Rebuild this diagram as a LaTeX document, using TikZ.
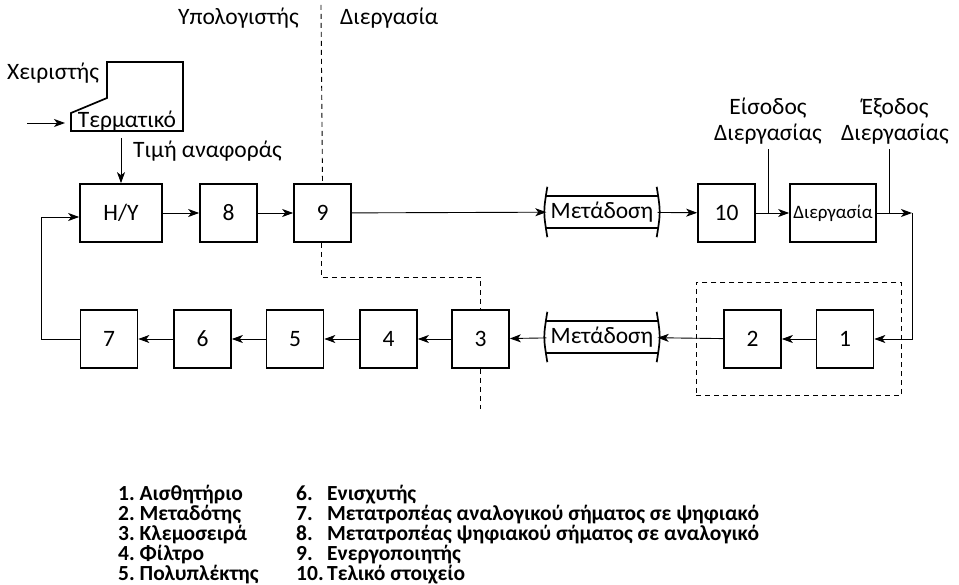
\documentclass[tikz,border=0pt]{standalone}
\usepackage{fontspec}
\setmainfont{Carlito}
\usetikzlibrary{arrows.meta,fit}

\begin{document}
\begin{tikzpicture}[
x=1pt, y=-1pt,
every node/.style={inner sep=0pt, font=\fontsize{23.5}{26}\selectfont},
box/.style={draw, line width=1.7pt, minimum width=57pt, minimum height=58pt},
trans/.style={minimum width=111pt, minimum height=32pt},
arrow/.style={-{Stealth[length=11pt, width=8pt, inset=3pt]}, line width=0.9pt},
link/.style={line width=0.9pt},
border/.style={line width=0.9pt, dash pattern=on 5pt off 4pt},
legend/.style={anchor=west, font=\fontsize{21.5}{22}\bfseries}
]
\useasboundingbox (0,0) rectangle (959,585);

% upper row
\node[box, minimum width=82pt] (hy) at (121,213) {H/Y};
\node[box] (b8) at (228.5,213) {8};
\node[box] (b9) at (322.5,213) {9};
\node[trans] (tx1) at (602,212) {Μετάδοση};
\node[box] (b10) at (726.5,213) {10};
\node[box, minimum width=86pt, font=\fontsize{19}{22}\selectfont] (proc) at (833,213) {Διεργασία};

% lower row
\node[box] (b1) at (845,339) {1};
\node[box] (b2) at (752.5,339) {2};
\node[trans] (tx2) at (602,337) {Μετάδοση};
\node[box] (b3) at (480.5,339) {3};
\node[box] (b4) at (388.5,339) {4};
\node[box] (b5) at (295,339) {5};
\node[box] (b6) at (202.5,339) {6};
\node[box] (b7) at (109,339) {7};

% transmission boxes
\foreach \t in {tx1,tx2}{
  \draw[line width=1.7pt] (\t.north west) -- (\t.north east) (\t.south west) -- (\t.south east);
  \draw[line width=1.7pt] ([shift={(1,-9)}]\t.north west) .. controls ([shift={(-3,0)}]\t.west) .. ([shift={(1,9)}]\t.south west);
  \draw[line width=1.7pt] ([shift={(-1,-9)}]\t.north east) .. controls ([shift={(3,0)}]\t.east) .. ([shift={(-1,9)}]\t.south east);
}

% terminal
\draw[line width=1.7pt] (107,62) -- (183,62) -- (183,131) -- (71,131) -- (71,113) -- (107,98) -- cycle;
\node (term) at (127,121) {Τερματικό};
\node (oper) at (53,73) {Χειριστής};
\coordinate (opin) at (27,123);
\coordinate (termin) at (71,123);
\draw[arrow, shorten >=6pt] (opin) -- (termin);
\coordinate (refstart) at (121,138);
\draw[arrow] (refstart) -- (hy);
\node[anchor=west] (reflabel) at (133,151) {Τιμή αναφοράς};

% labels on top
\node[anchor=east] (comp) at (299,18) {Υπολογιστής};
\node[anchor=west] (procl) at (340,18) {Διεργασία};
\node[align=center] (inlabel) at (768,121) {Είσοδος\\Διεργασίας};
\node[align=center] (outlabel) at (895,121) {Έξοδος\\Διεργασίας};

% connectors
\draw[arrow] (hy) -- (b8);
\draw[arrow] (b8) -- (b9);
\draw[arrow] (b9) -- (tx1);
\draw[arrow] (tx1) -- (b10);
\draw[arrow] (b10) -- (proc);
\draw[link] ([yshift=-5pt]inlabel.south) -- (inlabel.south |- b10.east);
\draw[link] ([shift={(-6pt,-5pt)}]outlabel.south) -- ([xshift=-6pt]outlabel.south |- proc.east);
\coordinate (turn) at (912,213);
\draw[arrow] (proc) -- (turn);
\draw[arrow] (turn) |- (b1);
\draw[arrow] (b1) -- (b2);
\draw[arrow] (b2) -- (tx2);
\draw[arrow] (tx2) -- (b3);
\draw[arrow] (b3) -- (b4);
\draw[arrow] (b4) -- (b5);
\draw[arrow] (b5) -- (b6);
\draw[arrow] (b6) -- (b7);
\draw[arrow] (b7.west) -- ([xshift=-38pt]b7.west) |- ([yshift=-4pt]hy.west);

% computer / process boundary
\coordinate (btop) at (321,5);
\draw[border] (btop) -- (b9.north);
\draw[border] ([xshift=-1.5pt]b9.south) -- ([xshift=-1.5pt]b9.south |- 0,277) -| (b3.north);
\draw[border] (b3.south) -- ++(0,40);
\node[border, draw, fit=(b1)(b2), inner xsep=27pt, inner ysep=27pt] (sensor) {};

% legend
\foreach \txt [count=\i] in {Αισθητήριο, Μεταδότης, Κλεμοσειρά, Φίλτρο, Πολυπλέκτης}
  \node[legend] (legA\i) at (118,475+20*\i) {\i.~\txt};
\foreach \txt [count=\i from 6] in {Ενισχυτής, Μετατροπέας αναλογικού σήματος σε ψηφιακό, Μετατροπέας ψηφιακού σήματος σε αναλογικό, Ενεργοποιητής, Τελικό στοιχείο}
  \node[legend] (legB\i) at (296,375+20*\i) {\makebox[31pt][l]{\i.}\txt};
\end{tikzpicture}
\end{document}
